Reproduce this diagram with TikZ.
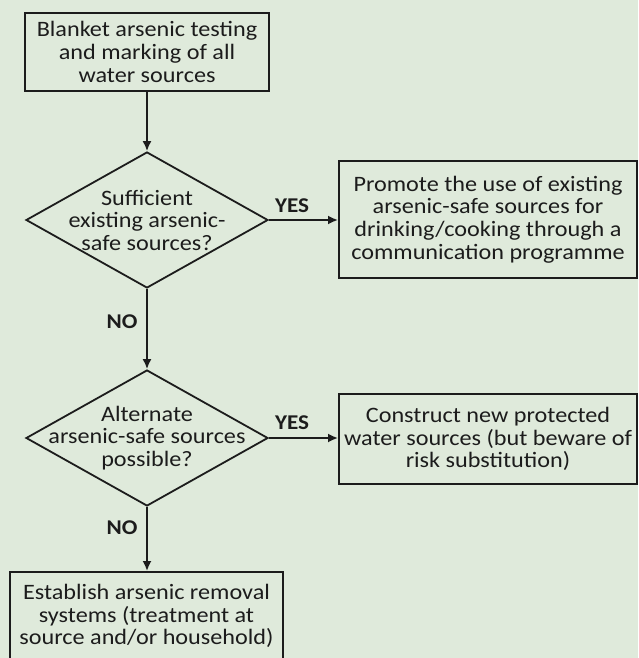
\documentclass[tikz,border=0pt]{standalone}
\usepackage{fontspec}
\setmainfont{Carlito}[FakeStretch=1.1]
\usetikzlibrary{shapes.geometric,arrows.meta}
\definecolor{bgreen}{RGB}{223,234,219}
\definecolor{ink}{RGB}{28,28,28}
\tikzset{
  stepbox/.style={draw=ink, line width=2pt, align=center, inner sep=0pt,
    text=ink, font=\fontsize{22}{22.8}\selectfont},
  decision/.style={draw=ink, line width=1.8pt, diamond, aspect=1.78,
    minimum width=242pt, minimum height=136pt, inner sep=0pt},
  qtext/.style={align=center, text=ink, font=\fontsize{22}{22.5}\selectfont},
  answer/.style={text=ink, font=\bfseries\fontsize{21}{24}\selectfont},
  flow/.style={draw=ink, line width=1.8pt, -{Latex[length=10pt,width=9pt]}}
}
\begin{document}
\begin{tikzpicture}[x=1pt,y=-1pt]
      \useasboundingbox (0,0) rectangle (638,658);
      \clip (0,0) rectangle (638,658);
      \fill[bgreen] (0,0) rectangle (638,658);
      % boxes
      \node[stepbox, minimum width=244pt, minimum height=78pt] (blanket) at (147,52)
        {Blanket arsenic testing\\and marking of all\\water sources};
      \node[stepbox, minimum width=298pt, minimum height=117pt] (promote) at (488,219.5)
        {Promote the use of existing\\arsenic-safe sources for\\drinking/cooking through a\\communication programme};
      \node[stepbox, minimum width=298pt, minimum height=90pt] (construct) at (488,439)
        {Construct new protected\\water sources (but beware of\\risk substitution)};
      \node[stepbox, minimum width=273pt, minimum height=88pt] (removal) at (146.5,616)
        {Establish arsenic removal\\systems (treatment at\\source and/or household)};
      % decisions
      \node[decision, label={[qtext]center:Sufficient\\existing arsenic-\\safe sources?}] (q1) at (147,220) {};
      \node[decision, label={[qtext]center:Alternate\\arsenic-safe sources\\possible?}] (q2) at (147,438) {};
      % connectors
      \draw[flow] (blanket) -- (q1);
      \draw[flow] (q1.east) -- (promote.west |- q1.east);
      \draw[flow] (q1) -- (q2);
      \draw[flow] (q2.east) -- (construct.west |- q2.east);
      \draw[flow] (q2.south) -- (q2.south |- removal.north);
      % answers
      \node[answer] (yes1) at (292,206) {YES};
      \node[answer] (no1) at (122,322) {NO};
      \node[answer] (yes2) at (292,423) {YES};
      \node[answer] (no2) at (122,528) {NO};
\end{tikzpicture}
\end{document}
